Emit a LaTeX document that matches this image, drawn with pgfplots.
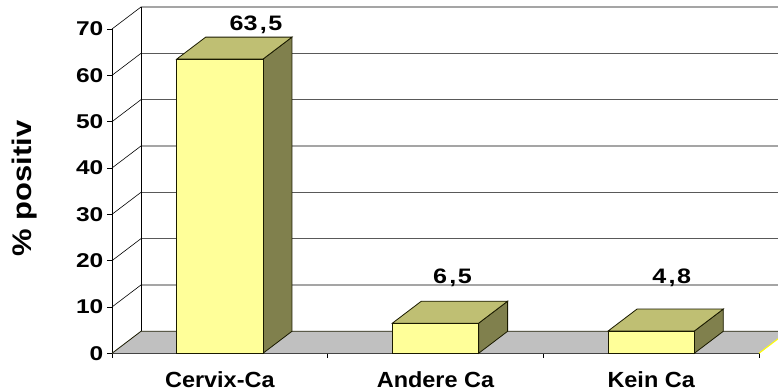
\documentclass[border=0pt]{standalone}
\usepackage{fontspec}
\usepackage{pgfplots}
\usepackage{pgfplotstable}
\pgfplotsset{compat=1.18}
\setmainfont{Liberation Sans}
\newfontfamily\tickfont{Liberation Sans}[FakeStretch=1.23]
\newfontfamily\catfont{Liberation Sans}[FakeStretch=1.07]
\newfontfamily\valfont{Liberation Sans}[FakeStretch=1.2]
\newfontfamily\labfont{Liberation Sans}[FakeStretch=1.15]

\definecolor{barfront}{HTML}{FFFF99}
\definecolor{bartop}{HTML}{BFBF73}
\definecolor{barside}{HTML}{80804D}
\definecolor{edge}{HTML}{1A1A00}
\definecolor{floorgray}{HTML}{C0C0C0}
\definecolor{flooredge}{HTML}{FFFF00}

% share of positive findings per group (percent)
\pgfplotstableread{
x  y
0  63.5
1  6.5
2  4.8
}\positiv

\begin{document}
\begin{tikzpicture}
\begin{axis}[
  scale only axis,
  width=647bp, height=324.3bp,
  xmin=-0.5, xmax=2.5, ymin=0, ymax=70,
  clip=false,
  axis x line*=bottom, axis y line*=left,
  axis line style={black, line width=0.8bp, -},
  tick align=outside, major tick length=4.5bp,
  tick style={black, line width=0.8bp},
  ytick={0,10,...,70},
  xtick={-0.5,0.5,1.5,2.5}, xticklabels={},
  extra x ticks={0,1,2},
  extra x tick labels={Cervix-Ca,Andere Ca,Kein Ca},
  extra x tick style={major tick length=0pt},
  xticklabel style={font=\catfont\bfseries\fontsize{22}{22}\selectfont,
    anchor=base, yshift=-34bp},
  /pgf/number format/assume math mode=true,
  yticklabel style={font=\tickfont\bfseries\fontsize{20}{20}\selectfont,
    anchor=east, inner sep=0pt, xshift=-4bp},
]
% bounding frame of the figure
\coordinate (bbsw) at (axis cs:-1.01932,-8.353);
\coordinate (bbne) at (axis cs:2.5881,76.26);

% floor of the 3-D frame
\fill[floorgray] (axis cs:-0.5,0) -- (axis cs:2.5,0) -- ++(29bp,22bp) -- ++(-647bp,0bp) -- cycle;

% side wall and back wall grid lines
\pgfplotsinvokeforeach{10,20,...,70}{
  \draw[black, line width=0.6bp] (axis cs:-0.5,#1) -- ++(29bp,22bp) -- ++(660bp,0bp);
}
% back wall left edge
\draw[black, line width=0.8bp] (axis cs:-0.5,0) ++(29bp,22bp) -- ++(0bp,324.3bp);
% floor edges
\draw[edge, line width=0.8bp] (axis cs:-0.5,0) -- ++(29bp,22bp) -- ++(660bp,0bp);
\draw[flooredge, line width=1bp] (axis cs:2.5,0) -- ++(29bp,22bp);

% side faces of the columns
\addplot[fill=barside, draw=edge, line width=0.8bp] coordinates {(0.2,0) (0.3345,4.75) (0.3345,68.25) (0.2,63.5)} -- cycle;
\addplot[fill=barside, draw=edge, line width=0.8bp] coordinates {(1.2,0) (1.3345,4.75) (1.3345,11.25) (1.2,6.5)} -- cycle;
\addplot[fill=barside, draw=edge, line width=0.8bp] coordinates {(2.2,0) (2.3345,4.75) (2.3345,9.55) (2.2,4.8)} -- cycle;
% top faces of the columns
\addplot[fill=bartop, draw=edge, line width=0.8bp] coordinates {(-0.2,63.5) (0.2,63.5) (0.3345,68.25) (-0.0655,68.25)} -- cycle;
\addplot[fill=bartop, draw=edge, line width=0.8bp] coordinates {(0.8,6.5) (1.2,6.5) (1.3345,11.25) (0.9345,11.25)} -- cycle;
\addplot[fill=bartop, draw=edge, line width=0.8bp] coordinates {(1.8,4.8) (2.2,4.8) (2.3345,9.55) (1.9345,9.55)} -- cycle;
% front faces of the columns
\addplot[ybar, bar width=0.4, fill=barfront, draw=edge, line width=0.8bp] table[x=x, y=y] {\positiv};

% value labels
\node[font=\valfont\bfseries\fontsize{21}{21}\selectfont, anchor=base] at (axis cs:0.1677,69.57) {63\kern2.5bp,\kern1.5bp5};
\node[font=\valfont\bfseries\fontsize{21}{21}\selectfont, anchor=base] at (axis cs:1.0788,15.11) {6\kern2.5bp,\kern1.5bp5};
\node[font=\valfont\bfseries\fontsize{21}{21}\selectfont, anchor=base] at (axis cs:2.0952,15.11) {4\kern2.5bp,\kern1.5bp8};

% axis title
\node[rotate=90, font=\labfont\bfseries\fontsize{27}{27}\selectfont] at (axis cs:-0.9057,35.57) {\% positiv};
\end{axis}
\pgfresetboundingbox
\useasboundingbox (bbsw) rectangle (bbne);
\end{tikzpicture}
\end{document}
